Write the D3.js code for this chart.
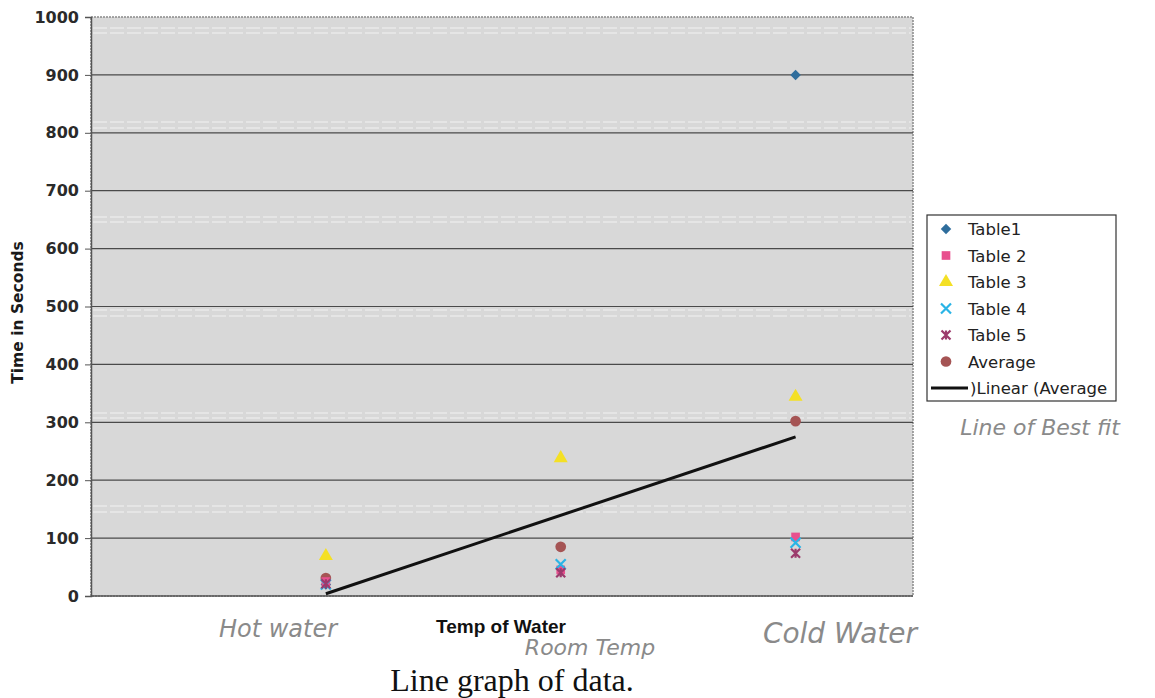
<!DOCTYPE html>
<html><head><meta charset="utf-8">
<script src="https://cdn.jsdelivr.net/npm/d3@7"></script>
<style>body{margin:0;background:#fff}svg{display:block}</style>
</head><body>
<svg id="c" width="1155" height="698"></svg>
<script>
const categories = ["Hot water","Room Temp","Cold Water"];
const categoryX = [1,2,3];
const table1 = [20, 47, 900];
const table2 = [25, 45, 102];
const table3 = [69, 238, 344];
const table4 = [20, 55, 92];
const table5 = [21, 40, 74];
const average = [31, 85, 302];
const yTicks = [0,100,200,300,400,500,600,700,800,900,1000];
const seriesNames = ["Table1","Table 2","Table 3","Table 4","Table 5","Average"];

const svg = d3.select("#c");
const L=91,R=913,T=17,B=596;
const x = d3.scaleLinear().domain([0,3.5]).range([L,R]);
const y = d3.scaleLinear().domain([0,1000]).range([B,T]);

svg.append("rect").attr("x",L).attr("y",T).attr("width",R-L).attr("height",B-T)
  .attr("fill","#d8d8d8").attr("stroke","#8a8a8a").attr("stroke-width",1.5).attr("stroke-dasharray","2,1");
[[28,33],[122,128],[217,222],[310,316],[413,418],[506,512]].forEach(p=>{
  p.forEach(v=>svg.append("line").attr("x1",L+2).attr("x2",R-2).attr("y1",v).attr("y2",v)
    .attr("stroke","#f2f2f2").attr("stroke-width",1).attr("stroke-dasharray","14,3"));
});
svg.append("g").selectAll("line").data(yTicks.filter(d=>d>0&&d<1000)).join("line")
  .attr("x1",L).attr("x2",R).attr("y1",d=>y(d)).attr("y2",d=>y(d))
  .attr("stroke","#4a4a4a").attr("stroke-width",1.2);

const ya = svg.append("g").attr("transform",`translate(${L},0)`)
  .call(d3.axisLeft(y).tickValues(yTicks).tickFormat(d3.format("d")).tickSize(6).tickPadding(6));
ya.select(".domain").attr("stroke","#555").attr("stroke-width",1.5);
ya.selectAll(".tick line").attr("stroke","#555");
ya.selectAll("text").attr("font-family","DejaVu Sans, Verdana, sans-serif").attr("font-size",16)
  .attr("font-weight","bold").attr("fill","#2a2a2a");
svg.append("line").attr("x1",L).attr("x2",R).attr("y1",B).attr("y2",B).attr("stroke","#555").attr("stroke-width",1.5);

svg.append("text").attr("transform",`translate(23,${(T+B)/2+6}) rotate(-90)`).attr("text-anchor","middle")
  .attr("font-family","DejaVu Sans, Verdana, sans-serif").attr("font-weight","bold").attr("font-size",15.5)
  .attr("fill","#1a1a1a").text("Time in Seconds");

const mx=d3.mean(categoryX), my=d3.mean(average);
const slope=d3.sum(categoryX,(d,i)=>(d-mx)*(average[i]-my))/d3.sum(categoryX,d=>(d-mx)*(d-mx));
const icpt=my-slope*mx;
svg.append("line").attr("x1",x(1)).attr("y1",y(icpt+slope*1)).attr("x2",x(3)).attr("y2",y(icpt+slope*3))
  .attr("stroke","#111").attr("stroke-width",3);

const colors=["#2e6d9c","#e8508e","#f4e025","#2ab4e6","#9c3a6c","#a55454"];
function drawMarker(g,i,cx,cy){
  const c=colors[i];
  if(i===0){
    g.append("path").attr("transform",`translate(${cx},${cy}) rotate(45)`)
      .attr("d",d3.symbol().type(d3.symbolSquare).size(55)()).attr("fill",c);
  } else if(i===3){
    const s=5;
    g.append("path").attr("d",`M${cx-s},${cy-s}L${cx+s},${cy+s}M${cx-s},${cy+s}L${cx+s},${cy-s}`)
      .attr("stroke",c).attr("stroke-width",2.2);
  } else if(i===4){
    const s=4.5;
    g.append("path").attr("d",`M${cx-s},${cy-s}L${cx+s},${cy+s}M${cx-s},${cy+s}L${cx+s},${cy-s}M${cx},${cy-s}L${cx},${cy+s}`)
      .attr("stroke",c).attr("stroke-width",2.2);
  } else {
    const type={1:d3.symbolSquare,2:d3.symbolTriangle,5:d3.symbolCircle}[i];
    const size={1:75,2:85,5:90}[i];
    g.append("path").attr("transform",`translate(${cx},${cy})`)
      .attr("d",d3.symbol().type(type).size(size)()).attr("fill",c);
  }
}
const series=[table1,table2,table3,table4,table5,average];
const pg=svg.append("g");
[5,0,2,1,3,4].forEach(i=>{
  series[i].forEach((v,j)=>drawMarker(pg,i,x(categoryX[j]),y(v)));
});

const lg=svg.append("g");
lg.append("rect").attr("x",927).attr("y",215).attr("width",189).attr("height",186)
  .attr("fill","#fff").attr("stroke","#333").attr("stroke-width",1.2);
seriesNames.forEach((n,i)=>{
  const ly=229+i*26.5;
  drawMarker(lg,i,946,ly);
  lg.append("text").attr("x",968).attr("y",ly+6).attr("font-family","DejaVu Sans, Verdana, sans-serif")
    .attr("font-size",16.5).attr("fill","#222").text(n);
});
lg.append("line").attr("x1",931).attr("x2",968).attr("y1",388).attr("y2",388).attr("stroke","#111").attr("stroke-width",3);
lg.append("text").attr("x",970).attr("y",394).attr("font-family","DejaVu Sans, Verdana, sans-serif")
  .attr("font-size",16.5).attr("fill","#222").text(")Linear (Average");

svg.append("text").attr("x",501).attr("y",633).attr("text-anchor","middle")
  .attr("font-family","Liberation Sans, Arial, sans-serif").attr("font-weight","bold").attr("font-size",19)
  .attr("fill","#111").text("Temp of Water");

const hw = {fill:"#8a8a8a","font-family":"DejaVu Sans, sans-serif","font-style":"italic","font-weight":"300"};
const catPos=[[278,637,24],[590,655,22],[840,643,28]];
categories.forEach((c,i)=>{
  const t=svg.append("text").attr("x",catPos[i][0]).attr("y",catPos[i][1]).attr("text-anchor","middle")
    .attr("font-size",catPos[i][2]).text(c);
  Object.entries(hw).forEach(([k,v])=>t.attr(k,v));
});
const lb=svg.append("text").attr("x",1040).attr("y",435).attr("text-anchor","middle")
  .attr("font-size",22).text("Line of Best fit");
Object.entries(hw).forEach(([k,v])=>lb.attr(k,v));

svg.append("text").attr("x",512).attr("y",691).attr("text-anchor","middle")
  .attr("font-family","Liberation Serif, Times New Roman, serif").attr("font-size",32)
  .attr("fill","#111").text("Line graph of data.");
</script>
</body></html>
